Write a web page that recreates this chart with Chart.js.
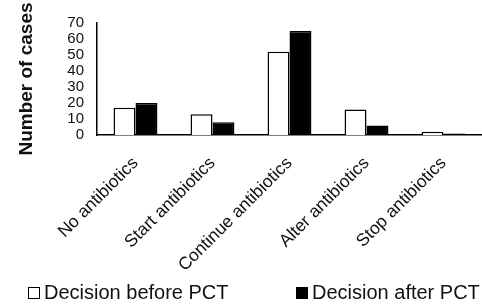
<!DOCTYPE html>
<html>
<head>
<meta charset="utf-8">
<script src="https://cdn.jsdelivr.net/npm/chart.js@4/dist/chart.umd.min.js"></script>
<style>
    html, body { margin: 0; padding: 0; background: #fff; }
    #wrap { position: relative; width: 482px; height: 306px; }
    #legend {
        position: absolute; left: 0; top: 281px; width: 482px; height: 24px;
        font: 20px Arial, "Liberation Sans", sans-serif; color: #111;
    }
    .item { position: absolute; top: 0; white-space: nowrap; }
    .box { display: inline-block; width: 10px; height: 10px; border: 1px solid #000; margin-right: 4px; vertical-align: 0px; }
</style>
</head>
<body>
<div id="wrap">
    <canvas id="myChart" width="482" height="306"></canvas>
    <div id="legend">
        <span class="item" style="left:28px"><span class="box" style="background:#fff"></span>Decision before PCT</span>
        <span class="item" style="left:296px"><span class="box" style="background:#000"></span>Decision after PCT</span>
    </div>
</div>
<script>
const categories = ["No antibiotics", "Start antibiotics", "Continue antibiotics", "Alter antibiotics", "Stop antibiotics"];
const beforePCT = [17, 13, 52, 16, 2];
const afterPCT = [20, 8, 65, 6, 1];
const yTicks = [0, 10, 20, 30, 40, 50, 60, 70];

const ctx = document.getElementById("myChart").getContext("2d");

new Chart(ctx, {
    type: 'bar',
    data: {
        labels: categories,
        datasets: [
            {
                label: "Decision before PCT",
                data: beforePCT,
                backgroundColor: "#fff",
                borderColor: "#000",
                borderWidth: 1.5
            },
            {
                label: "Decision after PCT",
                data: afterPCT,
                backgroundColor: "#000",
                borderColor: "#000",
                borderWidth: 1.5
            }
        ]
    },
    options: {
        responsive: false,
        animation: false,
        categoryPercentage: 0.57,
        barPercentage: 1,
        layout: { padding: { top: 23, right: 0, bottom: 0, left: 15 } },
        plugins: {
            legend: { display: false },
            tooltip: { enabled: false }
        },
        scales: {
            x: {
                grid: { display: false, drawTicks: false },
                border: { color: "#000", width: 1.5 },
                ticks: {
                    color: "#111",
                    font: { family: "Arial", size: 17.5 },
                    minRotation: 45,
                    maxRotation: 45,
                    autoSkip: false,
                    padding: 18
                },
                afterFit: scale => {
                    scale.height = 306 - 135;
                    scale.paddingLeft = 0;
                    scale.paddingRight = 0;
                }
            },
            y: {
                min: 0,
                max: 70,
                afterBuildTicks: scale => { scale.ticks = yTicks.map(v => ({ value: v })); },
                grid: { display: false, drawTicks: true, tickLength: 4, tickColor: "#000" },
                border: { color: "#000", width: 1.5 },
                ticks: {
                    color: "#111",
                    font: { family: "Arial", size: 15 },
                    autoSkip: false,
                    padding: 9
                },
                title: {
                    display: true,
                    text: "Number of cases",
                    color: "#111",
                    font: { family: "Arial", size: 19, weight: "bold" },
                    padding: 0
                },
                afterFit: scale => { scale.width = 97 - 15; }
            }
        }
    }
});
</script>
</body>
</html>
